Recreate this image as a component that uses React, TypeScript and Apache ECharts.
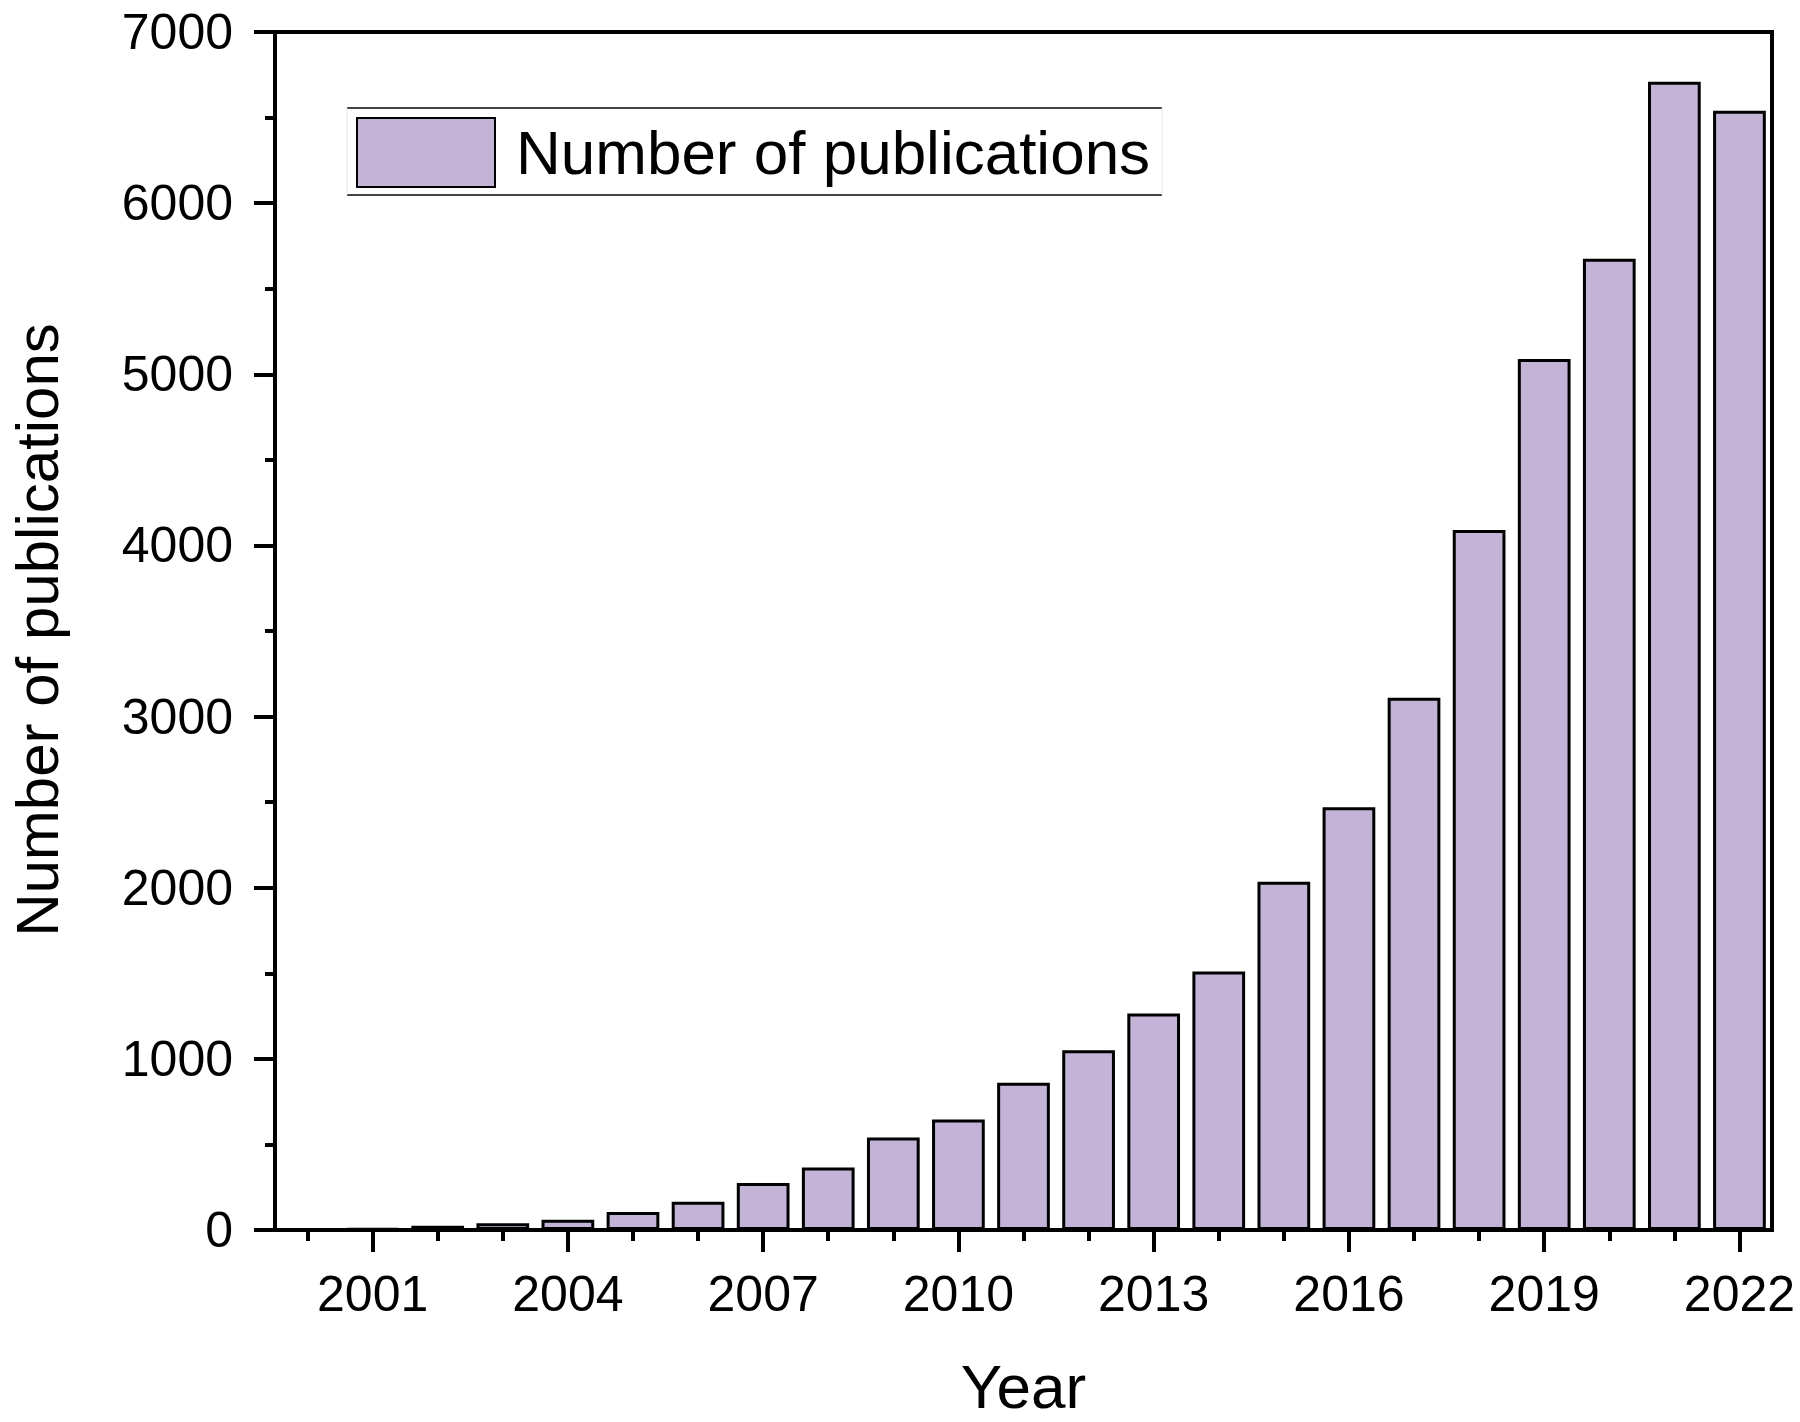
import React, { useEffect, useRef } from "react";
import * as echarts from "echarts";

const years = [
  "2000", "2001", "2002", "2003", "2004", "2005", "2006", "2007", "2008", "2009", "2010", "2011",
  "2012", "2013", "2014", "2015", "2016", "2017", "2018", "2019", "2020", "2021", "2022",
];
const publications: (number | string)[] = [
  "-", 10, 25, 40, 60, 105, 165, 275, 365, 540, 645, 860,
  1050, 1265, 1510, 2035, 2470, 3110, 4090, 5090, 5675, 6710, 6540,
];
const seriesName = "Number of publications";
const xTitle = "Year";
const yTitle = "Number of publications";

const FONT = "'Liberation Sans', Arial, sans-serif";
const FILL = "#c2b3d7";

export default function App() {
  const ref = useRef<HTMLDivElement>(null);
  useEffect(() => {
    if (!ref.current) return;
    const chart = echarts.init(ref.current, null, { renderer: "svg" });
    const majorIdx = (i: number) => (i - 1) % 3 === 0;
    chart.setOption({
      animation: false,
      backgroundColor: "#fff",
      textStyle: { fontFamily: FONT },
      grid: {
        left: 275,
        right: 28,
        top: 32,
        bottom: 185,
        show: true,
        borderColor: "#000",
        borderWidth: 4,
        backgroundColor: "transparent",
      },
      legend: {
        left: 356,
        top: 117,
        padding: 0,
        itemWidth: 138,
        itemHeight: 69,
        icon: "rect",
        data: [seriesName],
        textStyle: { fontSize: 62, color: "#000", fontFamily: FONT, padding: [0, 0, 0, 16] },
      },
      xAxis: [
        {
          type: "category",
          data: years,
          position: "bottom",
          axisLine: { show: true, lineStyle: { color: "#000", width: 4 } },
          axisTick: {
            show: true,
            inside: false,
            alignWithLabel: true,
            interval: 0,
            length: 11,
            lineStyle: { color: "#000", width: 4 },
          },
          axisLabel: { show: false },
          splitLine: { show: false },
        },
        {
          type: "category",
          data: years,
          position: "bottom",
          axisLine: { show: false },
          axisTick: {
            show: true,
            inside: false,
            alignWithLabel: true,
            interval: (i: number) => majorIdx(i),
            length: 22,
            lineStyle: { color: "#000", width: 4 },
          },
          axisLabel: {
            show: true,
            interval: (i: number) => majorIdx(i),
            fontSize: 50,
            color: "#000",
            fontFamily: FONT,
            margin: 39,
            lineHeight: 50,
          },
          name: xTitle,
          nameLocation: "middle",
          nameGap: 125,
          nameTextStyle: { fontSize: 62, color: "#000", fontFamily: FONT, lineHeight: 62 },
          splitLine: { show: false },
        },
      ],
      yAxis: {
        type: "value",
        min: 0,
        max: 7000,
        interval: 1000,
        axisLine: { show: true, lineStyle: { color: "#000", width: 4 } },
        axisTick: { show: true, inside: false, length: 21, lineStyle: { color: "#000", width: 4 } },
        minorTick: { show: true, splitNumber: 2, length: 10, lineStyle: { color: "#000", width: 4 } },
        axisLabel: {
          fontSize: 50,
          color: "#000",
          fontFamily: FONT,
          margin: 42,
          formatter: (v: number) => String(v),
        },
        splitLine: { show: false },
        minorSplitLine: { show: false },
      },
      series: [
        {
          name: seriesName,
          type: "bar",
          xAxisIndex: 0,
          data: publications,
          barCategoryGap: "19%",
          itemStyle: { color: FILL, borderColor: "#000", borderWidth: 3 },
        },
      ],
      graphic: [
        {
          type: "text",
          x: 37,
          y: 630,
          rotation: Math.PI / 2,
          style: {
            text: yTitle,
            fontSize: 60,
            fontFamily: FONT,
            fill: "#000",
            textAlign: "center",
            textVerticalAlign: "middle",
          },
        },
        { type: "line", shape: { x1: 347, y1: 108, x2: 1162, y2: 108 }, style: { stroke: "#444", lineWidth: 2 } },
        { type: "line", shape: { x1: 347, y1: 195, x2: 1162, y2: 195 }, style: { stroke: "#444", lineWidth: 2 } },
        { type: "line", shape: { x1: 347, y1: 108, x2: 347, y2: 195 }, style: { stroke: "#e6e6e6", lineWidth: 1 } },
        { type: "line", shape: { x1: 1162, y1: 108, x2: 1162, y2: 195 }, style: { stroke: "#e6e6e6", lineWidth: 1 } },
      ],
    });
    return () => chart.dispose();
  }, []);
  return (
    <div
      ref={ref}
      style={{ position: "absolute", left: 0, top: 0, width: 1800, height: 1422, background: "#fff" }}
    />
  );
}
